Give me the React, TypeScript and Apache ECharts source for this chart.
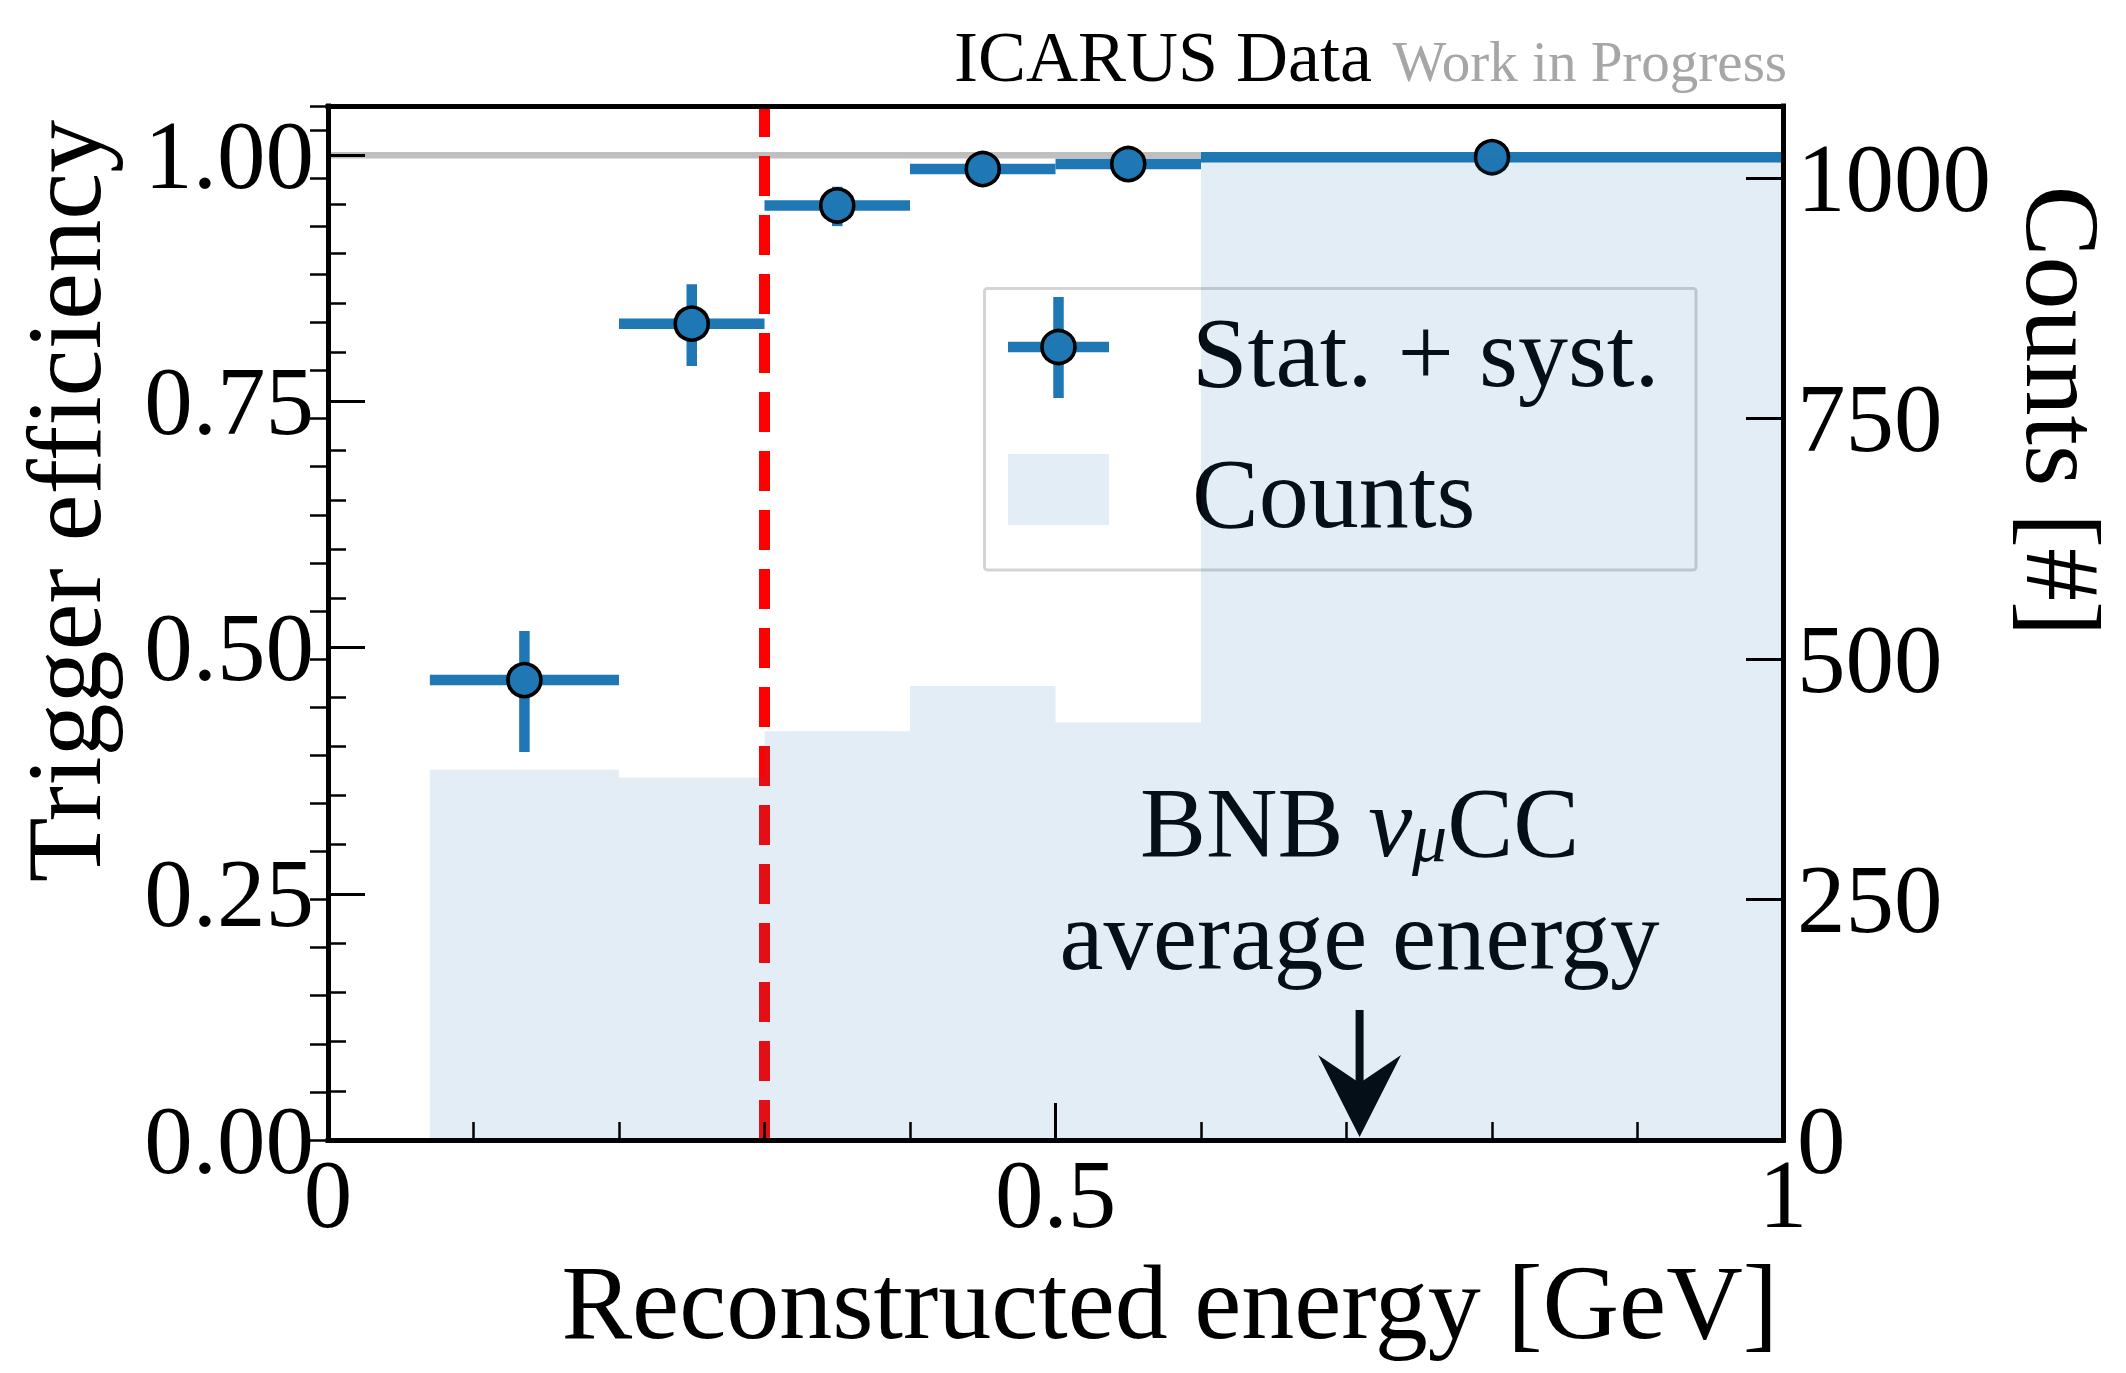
import React, { useEffect, useRef } from "react";
import * as echarts from "echarts";

// ---- data ----
const binLo = [0.07, 0.2, 0.3, 0.4, 0.5, 0.6];
const binHi = [0.2, 0.3, 0.4, 0.5, 0.6, 1.0];
const counts = [385, 377, 425, 472, 434, 1022];
const effX = [0.135, 0.25, 0.35, 0.45, 0.55, 0.8];
const eff = [0.467, 0.829, 0.949, 0.986, 0.991, 0.998];
const effErrUp = [0.050, 0.040, 0.019, 0.008, 0.006, 0.002];
const effErrDown = [0.073, 0.043, 0.021, 0.010, 0.007, 0.003];

const xTickValues = [0, 0.5, 1];
const xTickLabels = ["0", "0.5", "1"];
const effTickValues = [0, 0.25, 0.5, 0.75, 1.0];
const effTickLabels = ["0.00", "0.25", "0.50", "0.75", "1.00"];
const countTickValues = [0, 250, 500, 750, 1000];
const countTickLabels = ["0", "250", "500", "750", "1000"];

const thresholdX = 0.3;
const referenceEff = 1.0;
const annotX = 0.709;
const annotTailY = 0.132;
const annotTipY = 0.003;
const annotLine1Y = 0.3223;
const annotLine2Y = 0.2076;

const FONT = "'Liberation Serif', 'Times New Roman', serif";
const BLUE = "#1f77b4";

const pick = (vals: number[], labels: string[]) => (v: number) => {
  for (let i = 0; i < vals.length; i++) if (Math.abs(vals[i] - v) < 1e-6) return labels[i];
  return "";
};

export default function App() {
  const ref = useRef<HTMLDivElement>(null);
  useEffect(() => {
    document.body.style.margin = "0";
    if (!ref.current) return;
    const chart = echarts.init(ref.current, undefined, { renderer: "svg" });

    const axisLineStyle = { color: "#000", width: 5, cap: "square" };
    const labelStyle = { fontSize: 97, fontFamily: FONT, color: "#000" };

    const option: any = {
      animation: false,
      grid: { left: 328, top: 106, width: 1455, height: 1034, outerBoundsMode: "none" },
      xAxis: [
        {
          type: "value", min: 0, max: 1, interval: 0.5, position: "bottom", z: 10,
          axisLine: { show: true, onZero: false, lineStyle: axisLineStyle },
          axisTick: { show: true, inside: true, length: 37, lineStyle: { color: "#000", width: 3 } },
          minorTick: { show: true, splitNumber: 5, length: 18, lineStyle: { color: "#000", width: 2.5 } },
          axisLabel: { ...labelStyle, margin: 6, formatter: pick(xTickValues, xTickLabels) },
          splitLine: { show: false },
        },
        {
          type: "value", min: 0, max: 1, position: "top", z: 10,
          axisLine: { show: true, onZero: false, lineStyle: axisLineStyle },
          axisTick: { show: false }, axisLabel: { show: false }, splitLine: { show: false },
        },
      ],
      yAxis: [
        {
          type: "value", min: 0, max: 1.05, interval: 0.25, position: "left", z: 10,
          axisLine: { show: true, onZero: false, lineStyle: axisLineStyle },
          axisTick: { show: true, inside: true, length: 37, lineStyle: { color: "#000", width: 3 } },
          axisLabel: { ...labelStyle, margin: 14, formatter: pick(effTickValues, effTickLabels) },
          splitLine: { show: false },
        },
        {
          type: "value", min: 0, max: 1075, interval: 250, position: "right", z: 10,
          axisLine: { show: true, onZero: false, lineStyle: axisLineStyle },
          axisTick: { show: true, inside: true, length: 37, lineStyle: { color: "#000", width: 3 } },
          axisLabel: { ...labelStyle, margin: 14, formatter: pick(countTickValues, countTickLabels) },
          splitLine: { show: false },
        },
        {
          type: "value", min: 0, max: 1.05, interval: 0.05, position: "left", z: 10,
          axisLine: { show: false },
          axisTick: { show: true, inside: true, length: 18, lineStyle: { color: "#000", width: 2.5 } },
          axisLabel: { show: false }, splitLine: { show: false },
        },
        {
          type: "value", min: 0, max: 1075, interval: 50, position: "right", z: 10,
          axisLine: { show: false },
          axisTick: { show: true, inside: true, length: 18, lineStyle: { color: "#000", width: 2.5 } },
          axisLabel: { show: false }, splitLine: { show: false },
        },
      ],
      series: [
        {
          type: "line", xAxisIndex: 0, yAxisIndex: 0, z: 1, symbol: "none", silent: true,
          data: [[0, referenceEff], [1, referenceEff]],
          lineStyle: { color: "#bfbfbf", width: 6.6 },
        },
        {
          type: "line", xAxisIndex: 0, yAxisIndex: 0, z: 2, symbol: "none", silent: true,
          data: [[thresholdX, 0], [thresholdX, 1.05]],
          lineStyle: { color: "#ff0000", width: 11, type: [40, 19], cap: "butt" },
        },
        {
          type: "custom", xAxisIndex: 0, yAxisIndex: 0, z: 3, silent: true,
          data: effX.map((x, i) => [x, eff[i], binLo[i], binHi[i], eff[i] - effErrDown[i], eff[i] + effErrUp[i]]),
          encode: { x: 0, y: 1 },
          renderItem: (params: any, api: any) => {
            const x = api.value(0), y = api.value(1);
            const c = api.coord([x, y]);
            const l = api.coord([api.value(2), y]);
            const r = api.coord([api.value(3), y]);
            const b = api.coord([x, api.value(4)]);
            const t = api.coord([x, api.value(5)]);
            return {
              type: "group",
              children: [
                { type: "line", shape: { x1: l[0], y1: l[1], x2: r[0], y2: r[1] }, style: { stroke: BLUE, lineWidth: 10.5 } },
                { type: "line", shape: { x1: t[0], y1: t[1], x2: b[0], y2: b[1] }, style: { stroke: BLUE, lineWidth: 10.5 } },
                { type: "circle", shape: { cx: c[0], cy: c[1], r: 16.5 }, style: { fill: BLUE, stroke: "#000", lineWidth: 3.6 } },
              ],
            };
          },
        },
        {
          type: "custom", xAxisIndex: 0, yAxisIndex: 0, z: 3, silent: true,
          data: [[annotX, annotTailY, annotTipY, annotLine1Y, annotLine2Y]],
          encode: { x: 0, y: 1 },
          renderItem: (params: any, api: any) => {
            const x = api.value(0);
            const tail = api.coord([x, api.value(1)]);
            const tip = api.coord([x, api.value(2)]);
            const l1 = api.coord([x, api.value(3)]);
            const l2 = api.coord([x, api.value(4)]);
            const headLen = 82, headHalf = 41.5, notch = 54;
            return {
              type: "group",
              children: [
                { type: "line", shape: { x1: tail[0], y1: tail[1], x2: tip[0], y2: tip[1] - notch + 2 }, style: { stroke: "#000", lineWidth: 8 } },
                {
                  type: "polygon",
                  shape: { points: [[tip[0], tip[1]], [tip[0] - headHalf, tip[1] - headLen], [tip[0], tip[1] - notch], [tip[0] + headHalf, tip[1] - headLen]] },
                  style: { fill: "#000" },
                },
                {
                  type: "text", x: l1[0], y: l1[1],
                  style: {
                    text: "{n|BNB }{i|ν}{s|μ}{n|CC}",
                    align: "center", verticalAlign: "middle",
                    rich: {
                      n: { fontSize: 99, fontFamily: FONT, fill: "#000", lineHeight: 100 },
                      i: { fontSize: 99, fontFamily: FONT, fontStyle: "italic", fill: "#000", lineHeight: 100 },
                      s: { fontSize: 70, fontFamily: FONT, fontStyle: "italic", fill: "#000", lineHeight: 54, verticalAlign: "bottom" },
                    },
                  },
                },
                {
                  type: "text", x: l2[0], y: l2[1],
                  style: { text: "average energy", fontSize: 99, fontFamily: FONT, fill: "#000", align: "center", verticalAlign: "middle" },
                },
              ],
            };
          },
        },
        {
          type: "custom", xAxisIndex: 0, yAxisIndex: 1, z: 5, silent: true,
          data: binLo.map((lo, i) => [lo, binHi[i], counts[i]]),
          encode: { x: [0, 1], y: 2 },
          renderItem: (params: any, api: any) => {
            const p0 = api.coord([api.value(0), api.value(2)]);
            const p1 = api.coord([api.value(1), 0]);
            return {
              type: "rect",
              shape: { x: p0[0], y: p0[1], width: p1[0] - p0[0], height: p1[1] - p0[1] },
              style: { fill: BLUE, opacity: 0.13 },
            };
          },
        },
      ],
      graphic: {
        elements: [
          // title
          { type: "text", z: 20, x: 1372, y: 81 - 0.3375 * 72, style: { text: "ICARUS Data", fontSize: 72, fontFamily: FONT, fill: "#000", align: "right", verticalAlign: "middle" } },
          { type: "text", z: 20, x: 1787, y: 81 - 0.3375 * 57, style: { text: "Work in Progress", fontSize: 57, fontFamily: FONT, fill: "#a6a6a6", align: "right", verticalAlign: "middle" } },
          // axis names
          { type: "text", z: 20, x: 64, y: 501, rotation: Math.PI / 2, style: { text: "Trigger efficiency", fontSize: 106, fontFamily: FONT, fill: "#000", align: "center", verticalAlign: "middle" } },
          { type: "text", z: 20, x: 2062, y: 411, rotation: -Math.PI / 2, style: { text: "Counts [#]", fontSize: 106, fontFamily: FONT, fill: "#000", align: "center", verticalAlign: "middle" } },
          { type: "text", z: 20, x: 1778, y: 1338 - 0.3375 * 106, style: { text: "Reconstructed energy [GeV]", fontSize: 106, fontFamily: FONT, fill: "#000", align: "right", verticalAlign: "middle" } },
          // legend
          { type: "rect", z: 3, shape: { x: 984.5, y: 288.5, width: 711.5, height: 281.5, r: 3 }, style: { fill: "#ffffff", stroke: "#d4d4d4", lineWidth: 3 } },
          { type: "line", z: 3, shape: { x1: 1008, y1: 347, x2: 1109, y2: 347 }, style: { stroke: BLUE, lineWidth: 10.5 } },
          { type: "line", z: 3, shape: { x1: 1058.5, y1: 297, x2: 1058.5, y2: 398 }, style: { stroke: BLUE, lineWidth: 10.5 } },
          { type: "circle", z: 3, shape: { cx: 1058.5, cy: 347, r: 16.5 }, style: { fill: BLUE, stroke: "#000", lineWidth: 3.6 } },
          { type: "rect", z: 3, shape: { x: 1008, y: 454, width: 101, height: 71 }, style: { fill: BLUE, opacity: 0.13 } },
          { type: "text", z: 3, x: 1192, y: 386 - 0.3375 * 100, style: { text: "Stat. + syst.", fontSize: 100, fontFamily: FONT, fill: "#000", align: "left", verticalAlign: "middle" } },
          { type: "text", z: 3, x: 1192, y: 527 - 0.3375 * 100, style: { text: "Counts", fontSize: 100, fontFamily: FONT, fill: "#000", align: "left", verticalAlign: "middle" } },
        ],
      },
    };
    chart.setOption(option);
    return () => chart.dispose();
  }, []);
  return <div ref={ref} style={{ width: 2126, height: 1373 }} />;
}
